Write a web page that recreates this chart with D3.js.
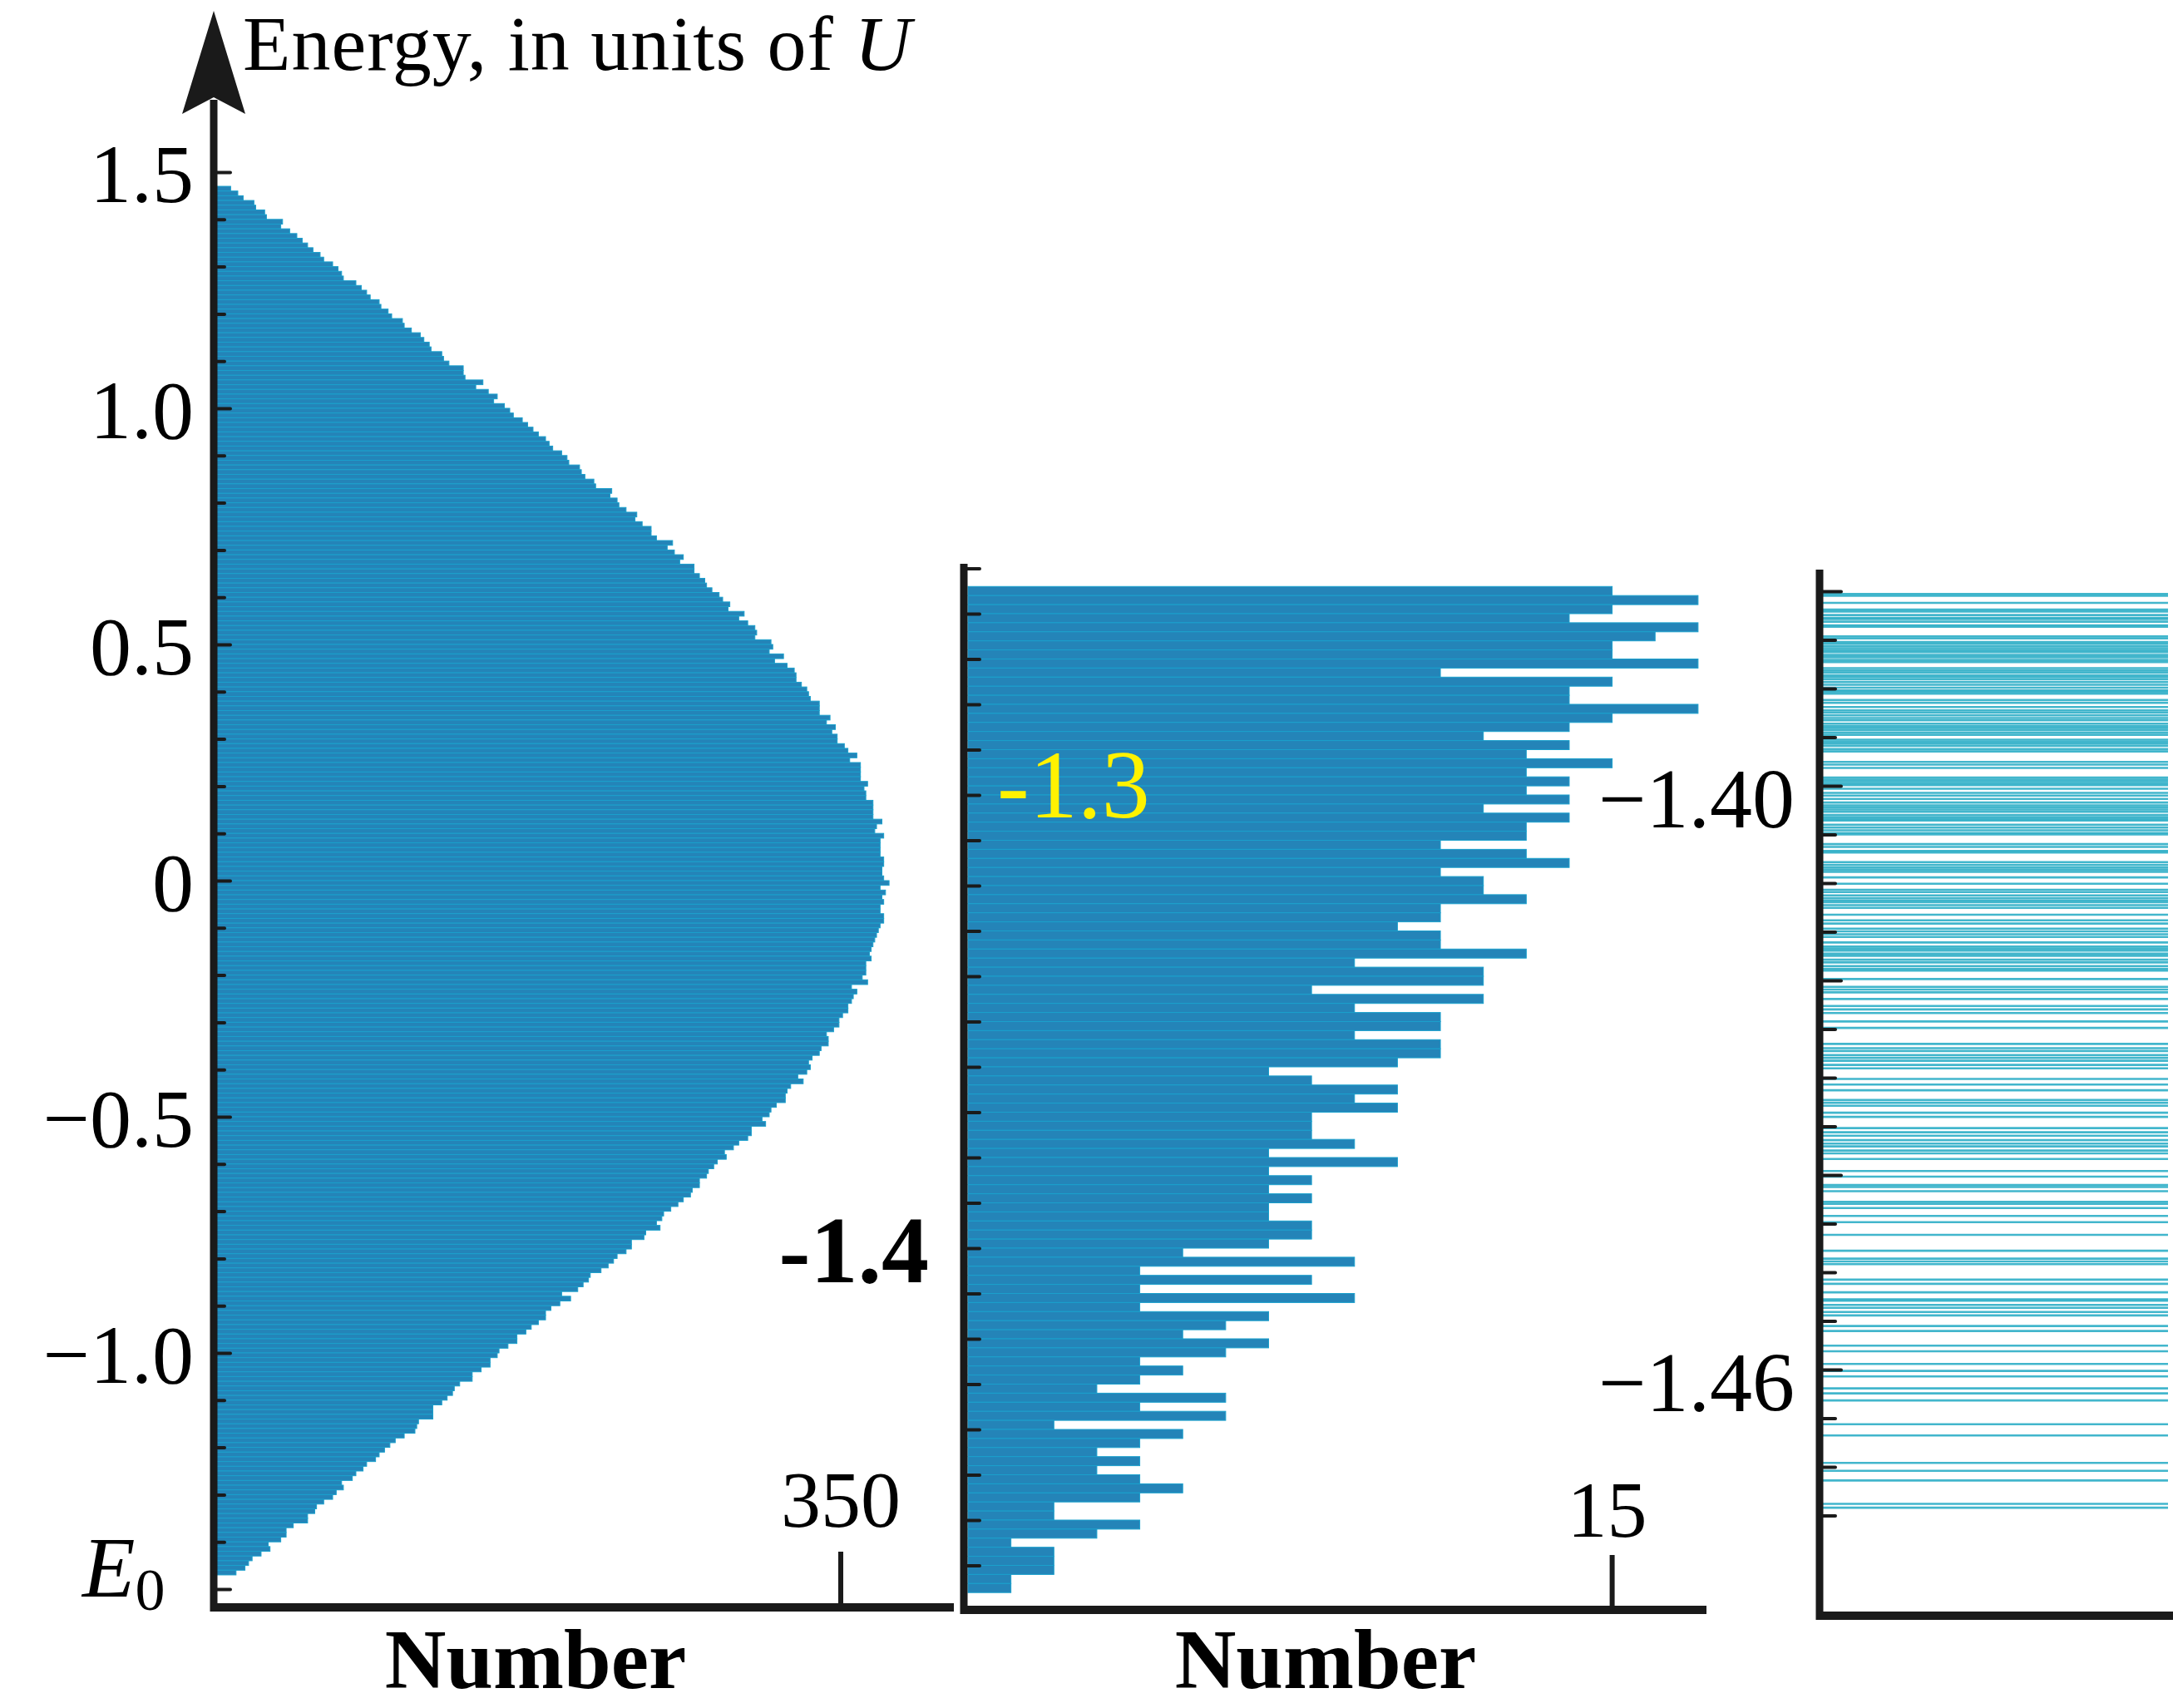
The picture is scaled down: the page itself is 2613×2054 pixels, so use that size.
<!DOCTYPE html>
<html>
<head>
<meta charset="utf-8">
<script src="https://cdn.jsdelivr.net/npm/d3@7"></script>
<style>
  body { margin: 0; background: #fff; overflow: hidden; }
  svg { display: block; }
</style>
</head>
<body>
<div id="chart"></div>
<script>
// ---- data ----
// full spectrum histogram, bins of 0.01 U from 1.47 down to -1.47
const overviewTop = 1.47;
const overviewStep = 0.01;
const overviewCounts = [
  9, 13, 16, 22, 23, 28, 29, 38, 37, 42,
  46, 49, 52, 55, 59, 61, 66, 69, 71, 72,
  79, 82, 85, 87, 92, 93, 97, 99, 105, 106,
  110, 115, 117, 120, 121, 127, 128, 131, 139, 139,
  140, 150, 146, 153, 158, 156, 162, 165, 167, 172,
  175, 178, 181, 185, 187, 189, 194, 197, 198, 204,
  205, 207, 212, 213, 222, 221, 225, 226, 230, 236,
  235, 239, 244, 244, 247, 256, 253, 257, 262, 260,
  268, 268, 271, 274, 275, 278, 282, 284, 288, 287,
  296, 293, 298, 302, 303, 302, 311, 312, 310, 318,
  313, 320, 324, 325, 325, 328, 331, 332, 333, 338,
  338, 338, 344, 342, 347, 345, 348, 348, 352, 354,
  359, 355, 361, 361, 361, 361, 365, 363, 364, 364,
  368, 368, 368, 368, 373, 370, 369, 374, 372, 372,
  372, 372, 374, 374, 373, 373, 374, 377, 372, 375,
  373, 374, 372, 372, 374, 374, 372, 371, 370, 369,
  368, 367, 366, 367, 364, 364, 364, 362, 365, 356,
  359, 357, 356, 354, 354, 351, 349, 349, 346, 342,
  343, 343, 339, 338, 334, 332, 333, 331, 326, 329,
  322, 320, 319, 319, 314, 311, 310, 306, 308, 300,
  300, 298, 293, 290, 285, 286, 281, 279, 276, 275,
  271, 271, 267, 266, 262, 259, 255, 251, 250, 247,
  249, 241, 240, 233, 233, 230, 225, 223, 220, 216,
  210, 209, 206, 203, 194, 199, 193, 188, 185, 185,
  181, 177, 174, 169, 169, 164, 159, 158, 154, 154,
  149, 144, 144, 137, 134, 133, 130, 127, 122, 122,
  122, 114, 113, 112, 106, 101, 98, 95, 92, 90,
  85, 83, 79, 77, 71, 72, 68, 66, 61, 57,
  56, 52, 52, 44, 40, 40, 37, 30, 31, 26,
  21, 19, 17, 12
];

// low-energy zoom, bins of 0.002 U from -1.254 down
const zoomTop = -1.254;
const zoomStep = 0.002;
const zoomCounts = [
  15, 17, 15, 14, 17, 16, 15, 15, 17, 11,
  15, 14, 14, 17, 15, 14, 12, 14, 13, 15,
  13, 14, 13, 14, 12, 14, 13, 13, 11, 13,
  14, 11, 12, 12, 13, 11, 11, 10, 11, 11,
  13, 9, 12, 12, 8, 12, 9, 11, 11, 9,
  11, 11, 10, 7, 8, 10, 9, 10, 8,
  8, 8, 9, 7, 10, 7, 8, 7, 8, 7,
  7, 8, 8, 7, 5, 9, 4, 8, 4, 9,
  4, 7, 6, 5, 7, 6, 4, 5, 4, 3,
  6, 4, 6, 2, 5, 4, 3, 4, 3, 4,
  5, 4, 2, 2, 4, 3, 1, 2, 2, 2,
  1, 1
];

// individual eigen-energies near the ground state
const levels = [
  -1.38028, -1.38046, -1.38120, -1.38188, -1.38208, -1.38245, -1.38273, -1.38285, -1.38313, -1.38350, -1.38364,
  -1.38464, -1.38484, -1.38521, -1.38541, -1.38564, -1.38586, -1.38606, -1.38626, -1.38655, -1.38678, -1.38706, -1.38729,
  -1.38791, -1.38814, -1.38834, -1.38863, -1.38883, -1.38905, -1.38934, -1.38962, -1.38991, -1.39019, -1.39033, -1.39053,
  -1.39119, -1.39147, -1.39190, -1.39224, -1.39247, -1.39275, -1.39304, -1.39327, -1.39361, -1.39384, -1.39404, -1.39424,
  -1.39452, -1.39475, -1.39526, -1.39546, -1.39566, -1.39589, -1.39623, -1.39646, -1.39754, -1.39782, -1.39816,
  -1.39916, -1.39936, -1.39953, -1.39973, -1.39993, -1.40030, -1.40073, -1.40101, -1.40135, -1.40172, -1.40201,
  -1.40221, -1.40243, -1.40266, -1.40300, -1.40323, -1.40343, -1.40357, -1.40400, -1.40428, -1.40457, -1.40485, -1.40500,
  -1.40599, -1.40628, -1.40670, -1.40685, -1.40784, -1.40813, -1.40841, -1.40864, -1.40884, -1.40941, -1.41006,
  -1.41069, -1.41092, -1.41126, -1.41154, -1.41177, -1.41197, -1.41226, -1.41254, -1.41325, -1.41382, -1.41416,
  -1.41468, -1.41496, -1.41525, -1.41553, -1.41610, -1.41653, -1.41673, -1.41695, -1.41724, -1.41747, -1.41787,
  -1.41815, -1.41852, -1.41880, -1.41900, -1.41986, -1.42066, -1.42094, -1.42123,
  -1.42191, -1.42263, -1.42298, -1.42335, -1.42422, -1.42488, -1.42653, -1.42696, -1.42725, -1.42768, -1.42797,
  -1.42826, -1.42869, -1.42904, -1.43013, -1.43071, -1.43129, -1.43230, -1.43259, -1.43288, -1.43360, -1.43403,
  -1.43518, -1.43561, -1.43596, -1.43642, -1.43677, -1.43706, -1.43749, -1.43778, -1.43836, -1.43960, -1.44017,
  -1.44104, -1.44124, -1.44167, -1.44277, -1.44297, -1.44340, -1.44421, -1.44485, -1.44615, -1.44779, -1.44860,
  -1.44889, -1.44917, -1.45076, -1.45119, -1.45206, -1.45278, -1.45292, -1.45336, -1.45365, -1.45408, -1.45443,
  -1.45552, -1.45604, -1.45754, -1.45812, -1.45942, -1.46014, -1.46071, -1.46193, -1.46245, -1.46317, -1.46562,
  -1.46677, -1.46960, -1.47040, -1.47140, -1.47380, -1.47420
];

// tick labels
const overviewLabels = [1.5, 1.0, 0.5, 0, -0.5, -1.0];
const zoomLabels = [-1.3, -1.4];
const levelLabels = [-1.40, -1.46];
const overviewCountTick = 350;
const zoomCountTick = 15;
const groundLabel = -1.474;

// ---- drawing ----
const W = 2613, H = 2054;
const ink = "#1a1a1a";
const barFill = "#2484b8";
const barEdge = "#1aa0cc";
const lineColour = "#2eaec7";
const serif = "'Liberation Serif', 'Times New Roman', serif";

const svg = d3.select("#chart")
    .append("svg")
    .attr("width", W)
    .attr("height", H);

const minus = s => s.replace("-", "\u2212");

// panel 1: whole spectrum
const y1 = d3.scaleLinear().domain([-1, 1]).range([1627, 491]);
const x1 = d3.scaleLinear().domain([0, 350]).range([258, 1011]);

const overviewBins = overviewCounts.map((c, i) => ({ top: overviewTop - i * overviewStep, count: c }));

svg.append("g")
    .selectAll("rect")
    .data(overviewBins)
    .join("rect")
    .attr("x", x1(0))
    .attr("y", d => y1(d.top))
    .attr("width", d => x1(d.count) - x1(0))
    .attr("height", d => y1(d.top - overviewStep) - y1(d.top))
    .attr("fill", barFill)
    .attr("stroke", barEdge)
    .attr("stroke-width", 1);

function tickAxis (scale, x, values, size) {
    const g = svg.append("g")
        .attr("transform", `translate(${x},0)`)
        .call(d3.axisRight(scale).tickValues(values).tickSize(size).tickFormat(""));
    g.select(".domain").remove();
    g.selectAll(".tick line")
        .attr("stroke", ink)
        .attr("stroke-width", 4)
        .attr("stroke-linecap", "round");
    return g;
}

const overviewMinor = d3.range(-15, 16).map(i => i / 10);
tickAxis(y1, 257, overviewMinor.filter(v => Math.abs(v * 2 - Math.round(v * 2)) > 1e-9), 13);
tickAxis(y1, 257, overviewMinor.filter(v => Math.abs(v * 2 - Math.round(v * 2)) < 1e-9), 20);

// axis with arrow head
svg.append("line")
    .attr("x1", 257).attr("x2", 257)
    .attr("y1", 1938).attr("y2", 120)
    .attr("stroke", ink).attr("stroke-width", 9);
svg.append("path")
    .attr("d", "M257,13 L295,137 L257,117 L219,137 Z")
    .attr("fill", ink);
svg.append("line")
    .attr("x1", 253).attr("x2", 1147)
    .attr("y1", 1933).attr("y2", 1933)
    .attr("stroke", ink).attr("stroke-width", 10);

svg.append("text")
    .attr("x", 292).attr("y", 84)
    .attr("font-family", serif).attr("font-size", 94)
    .attr("letter-spacing", 1)
    .call(t => {
        t.append("tspan").text("Energy, in units of ");
        t.append("tspan").attr("font-style", "italic").text("U");
    });

svg.append("g")
    .selectAll("text")
    .data(overviewLabels)
    .join("text")
    .attr("x", 233)
    .attr("y", d => y1(d) + 36)
    .attr("text-anchor", "end")
    .attr("font-family", serif)
    .attr("font-size", 100)
    .text(d => d === 0 ? "0" : minus(d.toFixed(1)));

svg.append("text")
    .attr("x", 99).attr("y", y1(groundLabel) + 24)
    .attr("font-family", serif).attr("font-size", 104)
    .call(t => {
        t.append("tspan").attr("font-style", "italic").text("E");
        t.append("tspan").attr("font-size", 72).attr("dy", 16).text("0");
    });

svg.append("line")
    .attr("x1", x1(overviewCountTick)).attr("x2", x1(overviewCountTick))
    .attr("y1", 1866).attr("y2", 1933)
    .attr("stroke", ink).attr("stroke-width", 6);
svg.append("text")
    .attr("x", x1(overviewCountTick)).attr("y", 1836)
    .attr("text-anchor", "middle")
    .attr("font-family", serif).attr("font-size", 96)
    .text(overviewCountTick);
svg.append("text")
    .attr("x", 644).attr("y", 2030)
    .attr("text-anchor", "middle")
    .attr("font-family", serif).attr("font-size", 102).attr("font-weight", "bold")
    .text("Number");

// panel 2: low-energy zoom
const y2 = d3.scaleLinear().domain([-1.3, -1.4]).range([956, 1501]);
const x2 = d3.scaleLinear().domain([0, 15]).range([1164, 1938.6]);

const zoomBins = zoomCounts.map((c, i) => ({ top: zoomTop - i * zoomStep, count: c }));

svg.append("g")
    .selectAll("rect")
    .data(zoomBins)
    .join("rect")
    .attr("x", x2(0))
    .attr("y", d => y2(d.top))
    .attr("width", d => x2(d.count) - x2(0))
    .attr("height", d => y2(d.top - zoomStep) - y2(d.top))
    .attr("fill", barFill)
    .attr("stroke", barEdge)
    .attr("stroke-width", 1);

tickAxis(y2, 1159, d3.range(0, 23).map(i => -1.25 - i / 100), 19);

svg.append("line")
    .attr("x1", 1159).attr("x2", 1159)
    .attr("y1", 678).attr("y2", 1941)
    .attr("stroke", ink).attr("stroke-width", 9);
svg.append("line")
    .attr("x1", 1155).attr("x2", 2052)
    .attr("y1", 1936).attr("y2", 1936)
    .attr("stroke", ink).attr("stroke-width", 10);

svg.append("line")
    .attr("x1", x2(zoomCountTick)).attr("x2", x2(zoomCountTick))
    .attr("y1", 1870).attr("y2", 1936)
    .attr("stroke", ink).attr("stroke-width", 6);
svg.append("text")
    .attr("x", x2(zoomCountTick) - 6).attr("y", 1848)
    .attr("text-anchor", "middle")
    .attr("font-family", serif).attr("font-size", 96)
    .text(zoomCountTick);
svg.append("text")
    .attr("x", 1594).attr("y", 2030)
    .attr("text-anchor", "middle")
    .attr("font-family", serif).attr("font-size", 102).attr("font-weight", "bold")
    .text("Number");

svg.append("text")
    .attr("x", 1199).attr("y", y2(zoomLabels[0]) + 27)
    .attr("font-family", serif).attr("font-size", 116)
    .attr("fill", "#fff200")
    .text(zoomLabels[0].toFixed(1));
svg.append("text")
    .attr("x", 1117).attr("y", y2(zoomLabels[1]) + 41)
    .attr("text-anchor", "end")
    .attr("font-family", serif).attr("font-size", 114).attr("font-weight", "bold")
    .attr("fill", "#000")
    .text(zoomLabels[1].toFixed(1));

// panel 3: individual levels
const y3 = d3.scaleLinear().domain([-1.40, -1.46]).range([945, 1647]);

svg.append("g")
    .selectAll("line")
    .data(levels)
    .join("line")
    .attr("x1", 2192).attr("x2", 2607)
    .attr("y1", d => y3(d)).attr("y2", d => y3(d))
    .attr("stroke", lineColour)
    .attr("stroke-width", 2.6)
    .attr("stroke-opacity", 0.9);

const levelTicks = d3.range(0, 20).map(i => -1.38 - i * 0.005);
tickAxis(y3, 2188, levelTicks.filter((v, i) => i % 4 !== 0), 19);
tickAxis(y3, 2188, levelTicks.filter((v, i) => i % 4 === 0), 26);

svg.append("line")
    .attr("x1", 2188).attr("x2", 2188)
    .attr("y1", 685).attr("y2", 1948)
    .attr("stroke", ink).attr("stroke-width", 9);
svg.append("line")
    .attr("x1", 2184).attr("x2", W)
    .attr("y1", 1943).attr("y2", 1943)
    .attr("stroke", ink).attr("stroke-width", 10);

svg.append("g")
    .selectAll("text")
    .data(levelLabels)
    .join("text")
    .attr("x", 2158)
    .attr("y", d => y3(d) + 50)
    .attr("text-anchor", "end")
    .attr("font-family", serif)
    .attr("font-size", 102)
    .text(d => minus(d.toFixed(2)));
</script>
</body>
</html>
